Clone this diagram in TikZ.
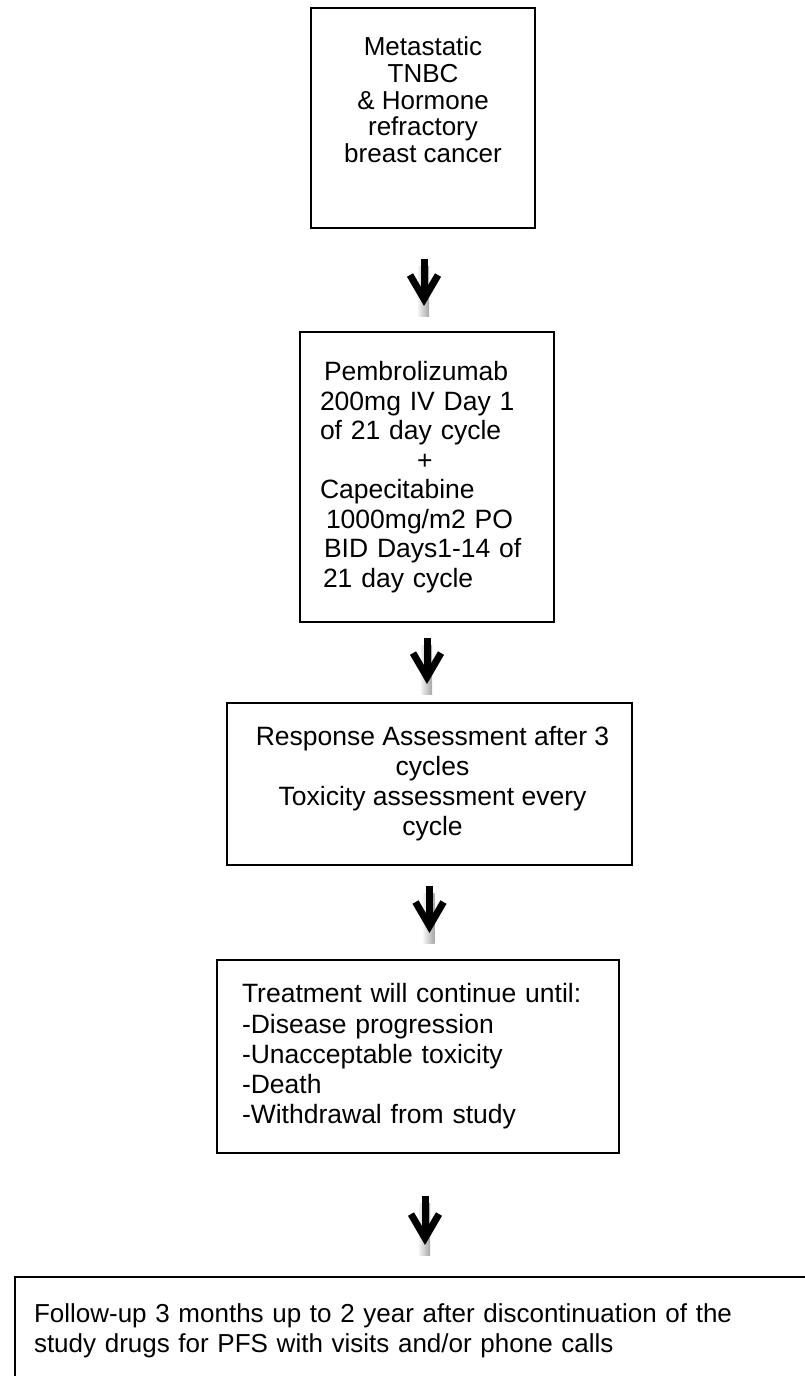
\documentclass[tikz,border=0pt]{standalone}
\usepackage{fontspec}
\setmainfont{Liberation Sans}
\usetikzlibrary{arrows.meta,calc,positioning}
\tikzstyle{box}=[draw,line width=2pt,inner sep=0pt,font=\fontsize{26.5}{29.5}\selectfont]
\tikzstyle{flow}=[line width=7pt,-{Straight Barb[length=24pt,width=28pt]}]
\tikzstyle{shaft}=[left color=gray!10,right color=gray!70]

\begin{document}
\begin{tikzpicture}[x=1pt,y=-1pt]
\useasboundingbox (0,0) rectangle (804,1376);

\node[box,minimum width=224pt,minimum height=220pt,align=center,font=\fontsize{26}{26.8}\selectfont] (meta) at (423,118)
  {Metastatic\\TNBC\\\& Hormone\\refractory\\breast cancer\\[10pt]\mbox{}};
\node[box,inner xsep=20pt,text width=214pt,minimum height=290pt,align=left] (pembro) at (427,477)
  {\hspace*{4pt}Pembrolizumab\\200mg IV Day 1\\of 21 day cycle\\\hspace*{97pt}+\\Capecitabine\\
   \hspace*{6pt}1000mg/m2 PO\\\hspace*{4pt}BID Days1-14 of\\\hspace*{3pt}21 day cycle};
\node[box,minimum width=405pt,minimum height=162pt,align=center,font=\fontsize{26.5}{30}\selectfont] (resp) at (429.5,784)
  {\hspace*{6pt}Response Assessment after 3\\\hspace*{6pt}cycles\\\hspace*{6pt}Toxicity assessment every\\\hspace*{6pt}cycle};
\node[box,inner xsep=25pt,text width=352pt,minimum height=193pt,align=left,font=\fontsize{26.5}{30.3}\selectfont] (treat) at (418,1056.5)
  {Treatment will continue until:\\-Disease progression\\-Unacceptable toxicity\\-Death\\-Withdrawal from study};
\node[box,anchor=north west,inner xsep=19pt,text width=768pt,minimum height=108pt,align=left,font=\fontsize{26}{30}\selectfont] (fol) at (14,1276)
  {Follow-up 3 months up to 2 year after discontinuation of the\\study drugs for PFS with visits and/or phone calls};

% block arrows between the steps
\foreach \a/\b/\s/\e/\dx in {meta/pembro/30/25/1,pembro/resp/15/18/0,resp/treat/20/26/0,treat/fol/42/31/7}{
  \shade[shaft] ($(\a.south)+(\dx-6,\s+7)$) rectangle ($(\a.south |- \b.north)+(\dx+5,-\e+10)$);
  \draw[flow,shorten <=\s pt,shorten >=\e pt] ($(\a.south)+(\dx,0)$) -- ($(\a.south |- \b.north)+(\dx,0)$);
}

\end{tikzpicture}
\end{document}
